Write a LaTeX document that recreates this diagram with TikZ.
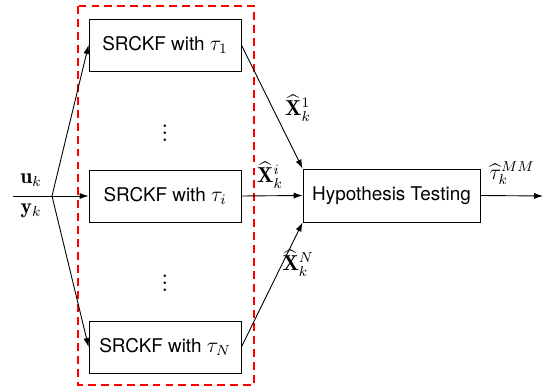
\documentclass[tikz,border=0pt]{standalone}
\usepackage{amsmath}
\usepackage{fontspec}
\setsansfont{TeX Gyre Heros}
\usetikzlibrary{arrows.meta}
% one drawing unit is 1/1.8 pt, so the 10pt text keeps its size relative to the layout
\newcommand{\mth}[1]{{\large$#1$}}
\begin{document}
\begin{tikzpicture}[x=0.5556pt,y=-0.5556pt,
  every node/.style={font=\large},
  filterbox/.style={draw,line width=0.5pt,minimum width=84.4pt,minimum height=28.9pt,font=\sffamily\fontsize{10.5}{12.6}\selectfont},
  conn/.style={line width=0.5pt,-{Latex[length=5pt,width=3.4pt]}},
  bank/.style={draw=red,line width=1pt,dash pattern=on 4.4pt off 2.8pt},
  dots/.style={font=\Large\boldmath}]
\useasboundingbox (0,0) rectangle (549,389);
% filter bank
\node[filterbox] (f1) at (165,45) {SRCKF with \mth{\tau_1}};
\node[filterbox] (fi) at (165,196) {SRCKF with \mth{\tau_i}};
\node[filterbox] (fN) at (165,347) {SRCKF with \mth{\tau_N}};
\node[dots] (d1) at (165,128) {$\vdots$};
\node[dots] (d2) at (165,278) {$\vdots$};
\draw[bank] (78,6) rectangle (254,385);
% decision block
\node[filterbox,minimum width=98.3pt,minimum height=29.4pt] (ht) at (391.5,195.5) {Hypothesis Testing};
% inputs
\coordinate (in) at (13,196);
\coordinate (split) at (52,196);
\coordinate (out) at (543,196);
\node (u) at (31,180) {$\mathbf{u}_k$};
\node (y) at (31,211) {$\mathbf{y}_k$};
\draw[line width=0.5pt] (in) -- (split);
\draw[conn] (split) -- (f1.west);
\draw[conn] (split) -- (fi.west);
\draw[conn] (split) -- (fN.west);
% filter outputs
\draw[conn] (f1.east) -- (ht.north west);
\draw[conn] (fi.east) -- (ht.west);
\draw[conn] (fN.east) -- (ht.south west);
\draw[conn] (ht.east) -- (out);
\node (x1) at (298,108) {$\widehat{\mathbf{X}}_k^1$};
\node (xi) at (270,175) {$\widehat{\mathbf{X}}_k^i$};
\node (xN) at (298,263) {$\widehat{\mathbf{X}}_k^N$};
\node (tau) at (512,173) {$\widehat{\tau}_k^{MM}$};
\end{tikzpicture}
\end{document}
